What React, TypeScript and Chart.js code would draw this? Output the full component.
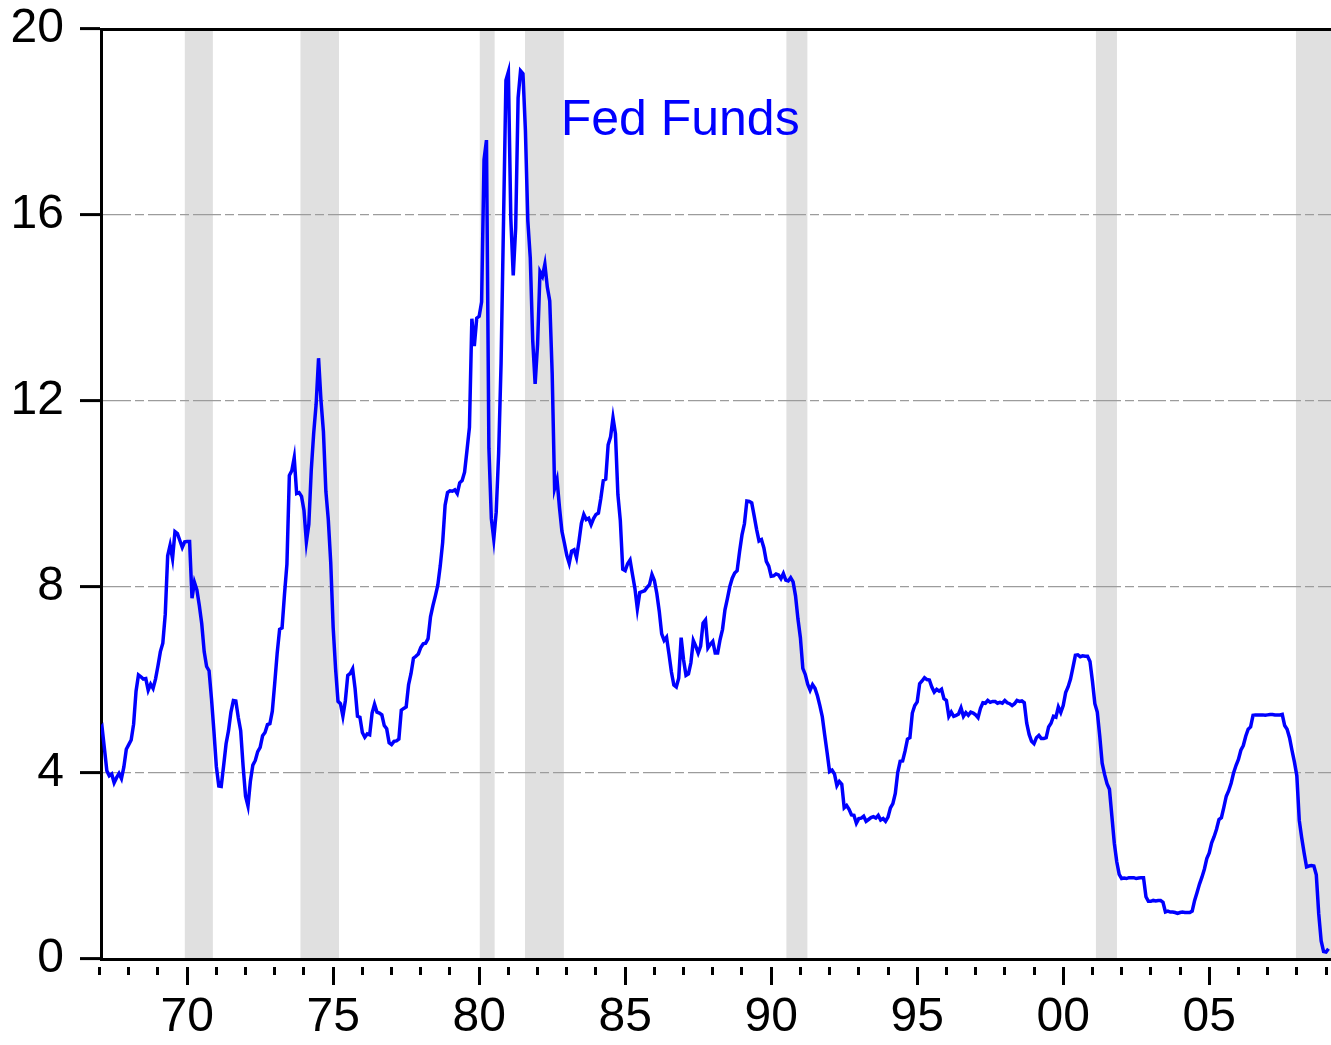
import React, { useEffect, useRef } from "react";
import { Chart, registerables } from "chart.js";

Chart.register(...registerables);

// Monthly effective federal funds rate, starting January 1967
const START_YEAR = 1967;

const fedFunds1967to1969 = [
  4.94, 5.0, 4.53, 4.05, 3.94, 3.98, 3.79, 3.9, 3.99, 3.88, 4.13, 4.51,
  4.61, 4.71, 5.05, 5.76, 6.11, 6.07, 6.02, 6.03, 5.78, 5.91, 5.82, 6.02,
  6.3, 6.61, 6.79, 7.41, 8.67, 8.9, 8.61, 9.19, 9.15, 9.0, 8.85, 8.97,
];

const fedFunds1970s = [
  8.98, 8.98, 7.76, 8.1, 7.94, 7.6, 7.21, 6.61, 6.29, 6.2, 5.6, 4.9,
  4.14, 3.72, 3.71, 4.16, 4.63, 4.91, 5.31, 5.56, 5.55, 5.2, 4.91, 4.14,
  3.5, 3.29, 3.83, 4.17, 4.27, 4.46, 4.55, 4.8, 4.87, 5.04, 5.06, 5.33,
  5.94, 6.58, 7.09, 7.12, 7.84, 8.49, 10.4, 10.5, 10.78, 10.01, 10.03, 9.95,
  9.65, 8.97, 9.35, 10.51, 11.31, 11.93, 12.92, 12.01, 11.34, 10.06, 9.45, 8.53,
  7.13, 6.24, 5.54, 5.49, 5.22, 5.55, 6.1, 6.14, 6.24, 5.82, 5.22, 5.2,
  4.87, 4.77, 4.84, 4.82, 5.29, 5.48, 5.31, 5.29, 5.25, 5.02, 4.95, 4.65,
  4.61, 4.68, 4.69, 4.73, 5.35, 5.39, 5.42, 5.9, 6.14, 6.47, 6.51, 6.56,
  6.7, 6.78, 6.79, 6.89, 7.36, 7.6, 7.81, 8.04, 8.45, 8.96, 9.76, 10.03,
  10.07, 10.06, 10.09, 10.01, 10.24, 10.29, 10.47, 10.94, 11.43, 13.77, 13.18, 13.78,
];

const fedFunds1980s = [
  13.82, 14.13, 17.19, 17.61, 10.98, 9.47, 9.03, 9.61, 10.87, 12.81, 15.85, 18.9,
  19.08, 15.93, 14.7, 15.72, 18.52, 19.1, 19.04, 17.82, 15.87, 15.08, 13.31, 12.37,
  13.22, 14.78, 14.68, 14.94, 14.45, 14.15, 12.59, 10.12, 10.31, 9.71, 9.2, 8.95,
  8.68, 8.51, 8.77, 8.8, 8.63, 8.98, 9.37, 9.56, 9.45, 9.48, 9.34, 9.47,
  9.56, 9.59, 9.91, 10.29, 10.32, 11.06, 11.23, 11.64, 11.3, 9.99, 9.43, 8.38,
  8.35, 8.5, 8.58, 8.27, 7.97, 7.53, 7.88, 7.9, 7.92, 7.99, 8.05, 8.27,
  8.14, 7.86, 7.48, 6.99, 6.85, 6.92, 6.56, 6.17, 5.89, 5.85, 6.04, 6.91,
  6.43, 6.1, 6.13, 6.37, 6.85, 6.73, 6.58, 6.73, 7.22, 7.29, 6.69, 6.77,
  6.83, 6.58, 6.58, 6.87, 7.09, 7.51, 7.75, 8.01, 8.19, 8.3, 8.35, 8.76,
  9.12, 9.36, 9.85, 9.84, 9.81, 9.53, 9.24, 8.99, 9.02, 8.84, 8.55, 8.45,
];

const fedFunds1990s = [
  8.23, 8.24, 8.28, 8.26, 8.18, 8.29, 8.15, 8.13, 8.2, 8.11, 7.81, 7.31,
  6.91, 6.25, 6.12, 5.91, 5.78, 5.9, 5.82, 5.66, 5.45, 5.21, 4.81, 4.43,
  4.03, 4.06, 3.98, 3.73, 3.82, 3.76, 3.25, 3.3, 3.22, 3.1, 3.09, 2.92,
  3.02, 3.03, 3.07, 2.96, 3.0, 3.04, 3.06, 3.03, 3.09, 2.99, 3.02, 2.96,
  3.05, 3.25, 3.34, 3.56, 4.01, 4.25, 4.26, 4.47, 4.73, 4.76, 5.29, 5.45,
  5.53, 5.92, 5.98, 6.05, 6.01, 6.0, 5.85, 5.74, 5.8, 5.76, 5.8, 5.6,
  5.56, 5.22, 5.31, 5.22, 5.24, 5.27, 5.4, 5.22, 5.3, 5.24, 5.31, 5.29,
  5.25, 5.19, 5.39, 5.51, 5.5, 5.56, 5.52, 5.54, 5.54, 5.5, 5.52, 5.5,
  5.56, 5.51, 5.49, 5.45, 5.49, 5.56, 5.54, 5.55, 5.51, 5.07, 4.83, 4.68,
  4.63, 4.76, 4.81, 4.74, 4.74, 4.76, 4.99, 5.07, 5.22, 5.2, 5.42, 5.3,
];

const fedFunds2000s = [
  5.45, 5.73, 5.85, 6.02, 6.27, 6.53, 6.54, 6.5, 6.52, 6.51, 6.51, 6.4,
  5.98, 5.49, 5.31, 4.8, 4.21, 3.97, 3.77, 3.65, 3.07, 2.49, 2.09, 1.82,
  1.73, 1.74, 1.73, 1.75, 1.75, 1.75, 1.73, 1.74, 1.75, 1.75, 1.34, 1.24,
  1.24, 1.26, 1.25, 1.26, 1.26, 1.22, 1.01, 1.03, 1.01, 1.01, 1.0, 0.98,
  1.0, 1.01, 1.0, 1.0, 1.0, 1.03, 1.26, 1.43, 1.61, 1.76, 1.93, 2.16,
  2.28, 2.5, 2.63, 2.79, 3.0, 3.04, 3.26, 3.5, 3.62, 3.78, 4.0, 4.16,
  4.29, 4.49, 4.59, 4.79, 4.94, 4.99, 5.24, 5.25, 5.25, 5.25, 5.25, 5.24,
  5.25, 5.26, 5.26, 5.25, 5.25, 5.25, 5.26, 5.02, 4.94, 4.76, 4.49, 4.24,
  3.94, 2.98, 2.61, 2.28, 1.98, 2.0, 2.01, 2.0, 1.81, 0.97, 0.39, 0.16,
  0.15, 0.22,
];

// NBER recessions (decimal years, start / end of shaded band)
const recessionStarts = [1969.92, 1973.88, 1980.02, 1981.57, 1990.52, 2001.12, 2007.97];
const recessionEnds = [1970.88, 1975.2, 1980.53, 1982.9, 1991.24, 2001.84, 2009.5];

const xMin = 1967.05;
const xMax = 2009.17;
const xTickYears = Array.from({ length: 43 }, (_, i) => 1967 + i);
const yTickValues = [0, 4, 8, 12, 16, 20];

const seriesLabel = "Fed Funds";
const seriesLabelAt = { x: 1982.79, y: 17.72 };

const FONT = "'Liberation Sans', Arial, Helvetica, sans-serif";

export default function App() {
  const canvasRef = useRef<HTMLCanvasElement | null>(null);

  useEffect(() => {
    const canvas = canvasRef.current;
    if (!canvas) return;

    const values = [
      ...fedFunds1967to1969,
      ...fedFunds1970s,
      ...fedFunds1980s,
      ...fedFunds1990s,
      ...fedFunds2000s,
    ];
    const points = values.map((v, i) => ({ x: START_YEAR + i / 12, y: v }));

    const bandsPlugin = {
      id: "recessionBands",
      beforeDraw(chart: any) {
        const { ctx, chartArea } = chart;
        const xs = chart.scales.x;
        ctx.save();
        ctx.fillStyle = "#e0e0e0";
        recessionStarts.forEach((s, i) => {
          const x1 = Math.max(xs.getPixelForValue(s), chartArea.left);
          const x2 = Math.min(xs.getPixelForValue(recessionEnds[i]), chartArea.right);
          if (x2 > x1) ctx.fillRect(x1, chartArea.top, x2 - x1, chartArea.bottom - chartArea.top);
        });
        ctx.restore();
      },
    };

    const labelPlugin = {
      id: "seriesLabel",
      afterDatasetsDraw(chart: any) {
        const { ctx } = chart;
        ctx.save();
        ctx.font = `50px ${FONT}`;
        ctx.fillStyle = "#0000ff";
        ctx.textAlign = "left";
        ctx.textBaseline = "alphabetic";
        ctx.fillText(
          seriesLabel,
          chart.scales.x.getPixelForValue(seriesLabelAt.x),
          chart.scales.y.getPixelForValue(seriesLabelAt.y)
        );
        ctx.restore();
      },
    };

    const chart = new Chart(canvas, {
      type: "line",
      data: {
        datasets: [
          {
            label: seriesLabel,
            data: points,
            borderColor: "#0000ff",
            borderWidth: 3.5,
            pointRadius: 0,
            tension: 0,
            fill: false,
          },
        ],
      },
      options: {
        animation: false,
        responsive: false,
        devicePixelRatio: 1,
        layout: { padding: { top: 29, left: 0, right: 0, bottom: 0 } },
        plugins: { legend: { display: false }, tooltip: { enabled: false } },
        scales: {
          x: {
            type: "linear",
            position: "bottom",
            min: xMin,
            max: xMax,
            afterBuildTicks: (s: any) => {
              s.ticks = xTickYears.map((v) => ({ value: v }));
            },
            afterFit: (s: any) => {
              s.height = 86;
              s.paddingLeft = 0;
              s.paddingRight = 0;
            },
            ticks: {
              autoSkip: false,
              maxRotation: 0,
              minRotation: 0,
              padding: 4,
              color: "#000",
              font: { family: FONT, size: 48 },
              callback: (v: any) => (v % 5 === 0 ? String(v % 100).padStart(2, "0") : ""),
            },
            grid: {
              display: true,
              drawOnChartArea: false,
              drawTicks: true,
              tickLength: 26,
              tickWidth: 3,
              tickColor: "#000",
              tickBorderDash: (ctx: any) =>
                ctx.tick && ctx.tick.value % 5 === 0 ? [0, 6, 18.5, 100] : [0, 6, 8, 100],
            },
            border: { display: true, color: "#000", width: 3 },
          },
          xTop: {
            type: "linear",
            position: "top",
            min: xMin,
            max: xMax,
            afterFit: (s: any) => {
              s.height = 0;
              s.paddingLeft = 0;
              s.paddingRight = 0;
            },
            ticks: { display: false },
            grid: { display: false, drawTicks: false },
            border: { display: true, color: "#000", width: 3 },
          },
          y: {
            type: "linear",
            position: "left",
            min: 0,
            max: 20,
            afterBuildTicks: (s: any) => {
              s.ticks = yTickValues.map((v) => ({ value: v }));
            },
            afterFit: (s: any) => {
              s.width = 101;
              s.paddingTop = 0;
              s.paddingBottom = 0;
            },
            ticks: {
              padding: 16,
              color: "#000",
              font: { family: FONT, size: 48 },
            },
            grid: {
              color: (ctx: any) =>
                ctx.tick && (ctx.tick.value === 0 || ctx.tick.value === 20)
                  ? "rgba(0,0,0,0)"
                  : "#9c9c9c",
              lineWidth: 1.2,
              drawTicks: true,
              tickLength: 21,
              tickWidth: 3,
              tickColor: "#000",
            },
            border: { display: true, color: "#000", width: 3, dash: [28, 4, 9, 4] },
          },
        },
      } as any,
      plugins: [bandsPlugin, labelPlugin],
    });

    return () => chart.destroy();
  }, []);

  return (
    <div style={{ position: "fixed", left: 0, top: 0, width: 1331, height: 1045, background: "#fff" }}>
      <canvas ref={canvasRef} width={1331} height={1045} style={{ display: "block", width: 1331, height: 1045 }} />
    </div>
  );
}
